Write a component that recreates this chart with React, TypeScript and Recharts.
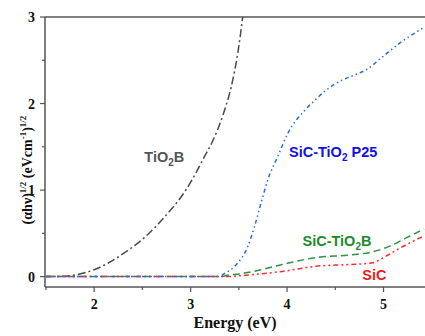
import React from "react";
import { LineChart, Line, XAxis, YAxis, ReferenceLine, ReferenceDot } from "recharts";

// TiO2B
const tio2bEnergy = [1.5, 1.7, 1.85, 2.0, 2.15, 2.32, 2.52, 2.73, 2.95, 3.07, 3.14, 3.23, 3.33, 3.42, 3.49, 3.54];
const tio2bValue = [0, 0.005, 0.03, 0.08, 0.16, 0.28, 0.45, 0.69, 1.0, 1.23, 1.38, 1.57, 1.85, 2.19, 2.59, 3.0];

// SiC-TiO2 P25
const p25Energy = [1.5, 3.0, 3.28, 3.36, 3.49, 3.59, 3.66, 3.74, 3.8, 3.9, 4.01, 4.19, 4.29, 4.41, 4.57, 4.7, 4.82, 4.99, 5.17, 5.42];
const p25Value = [0, 0, 0, 0.04, 0.16, 0.34, 0.57, 0.89, 1.12, 1.38, 1.66, 1.93, 2.04, 2.16, 2.27, 2.33, 2.39, 2.54, 2.7, 2.88];

// SiC-TiO2B
const sicTio2bEnergy = [1.5, 3.3, 3.4, 3.5, 3.61, 3.95, 4.3, 4.65, 4.86, 5.06, 5.24, 5.42];
const sicTio2bValue = [0, 0, 0.02, 0.03, 0.05, 0.14, 0.22, 0.25, 0.28, 0.35, 0.45, 0.55];

// SiC
const sicEnergy = [1.5, 3.35, 3.61, 3.95, 4.3, 4.65, 4.89, 5.0, 5.17, 5.42];
const sicValue = [0, 0, 0.02, 0.06, 0.12, 0.14, 0.16, 0.22, 0.33, 0.47];

const xTicks = [1.5, 2, 2.5, 3, 3.5, 4, 4.5, 5];
const yTicks = [0, 0.5, 1, 1.5, 2, 2.5, 3];

const toPoints = (xs: number[], ys: number[]) => xs.map((e, i) => ({ e, v: ys[i] }));

const serif = "'Liberation Serif', 'Times New Roman', serif";
const sans = "'Liberation Sans', Arial, sans-serif";
const axisColor = "#555";

const XTick = (props: any) => {
  const { x, y, payload } = props;
  const major = Number.isInteger(payload.value);
  return (
    <g>
      <line x1={x} y1={y} x2={x} y2={y + (major ? 5 : 3)} stroke={axisColor} strokeWidth={1.2} />
      {major && (
        <text x={x} y={y + 22} textAnchor="middle" fontFamily={serif} fontWeight="bold" fontSize={14} fill="#111">
          {payload.value}
        </text>
      )}
    </g>
  );
};

const YTick = (props: any) => {
  const { x, y, payload } = props;
  const major = Number.isInteger(payload.value);
  return (
    <g>
      <line x1={x} y1={y} x2={x - (major ? 5 : 3)} y2={y} stroke={axisColor} strokeWidth={1.2} />
      {major && (
        <text x={x - 10} y={y + 5} textAnchor="end" fontFamily={serif} fontWeight="bold" fontSize={14} fill="#111">
          {payload.value}
        </text>
      )}
    </g>
  );
};

// rotated title; baseline sits on the right-hand side
const YTitle = () => (
  <text
    x={32}
    y={170}
    transform="rotate(-90 32 170)"
    textAnchor="middle"
    fontFamily={serif}
    fontWeight="bold"
    fontSize={14}
    fill="#111"
  >
    (αhν)
    <tspan fontSize={9} dy={-6}>1/2</tspan>
    <tspan dy={6}> (eVcm</tspan>
    <tspan fontSize={9} dy={-6}>-1</tspan>
    <tspan dy={6}>)</tspan>
    <tspan fontSize={9} dy={-6}>1/2</tspan>
  </text>
);

const Tag = ({ viewBox, pre, post, color }: any) => (
  <text
    x={viewBox.x}
    y={viewBox.y + 5}
    textAnchor="start"
    fontFamily={sans}
    fontWeight="bold"
    fontSize={14.5}
    fill={color}
  >
    {pre}
    {post !== undefined && (
      <>
        <tspan fontSize={10} dy={4}>2</tspan>
        <tspan dy={-4}>{post}</tspan>
      </>
    )}
  </text>
);

export default function App() {
  return (
    <div style={{ position: "fixed", left: 0, top: 0, background: "#fff" }}>
      <LineChart width={425} height={336} margin={{ top: 17, right: 0, bottom: 0, left: 0 }}>
        <XAxis
          type="number"
          dataKey="e"
          domain={[1.49, 5.43]}
          allowDataOverflow
          ticks={xTicks}
          interval={0}
          height={49}
          tickSize={0}
          tickMargin={0}
          stroke={axisColor}
          strokeWidth={1.5}
          tick={<XTick />}
          label={{
            value: "Energy (eV)",
            position: "insideBottom",
            offset: 8,
            fontFamily: serif,
            fontWeight: "bold",
            fontSize: 16,
            fill: "#111",
          }}
        />
        <YAxis
          type="number"
          dataKey="v"
          domain={[-0.12, 3]}
          allowDataOverflow
          ticks={yTicks}
          interval={0}
          width={45}
          tickSize={0}
          tickMargin={0}
          stroke={axisColor}
          strokeWidth={1.5}
          tick={<YTick />}
          label={<YTitle />}
        />
        <ReferenceLine y={3} stroke={axisColor} strokeWidth={1.5} />
        <Line
          data={toPoints(tio2bEnergy, tio2bValue)}
          dataKey="v"
          type="monotone"
          stroke="#4a4a4a"
          strokeWidth={1.5}
          strokeDasharray="8 3 2 3"
          dot={false}
          isAnimationActive={false}
        />
        <Line
          data={toPoints(sicTio2bEnergy, sicTio2bValue)}
          dataKey="v"
          type="monotone"
          stroke="#2e9142"
          strokeWidth={1.5}
          strokeDasharray="7 4"
          dot={false}
          isAnimationActive={false}
        />
        <Line
          data={toPoints(sicEnergy, sicValue)}
          dataKey="v"
          type="monotone"
          stroke="#ff2a2a"
          strokeWidth={1.5}
          strokeDasharray="5 3 2 3 2 3"
          dot={false}
          isAnimationActive={false}
        />
        <Line
          data={toPoints(p25Energy, p25Value)}
          dataKey="v"
          type="monotone"
          stroke="#2a6be6"
          strokeWidth={1.5}
          strokeDasharray="4 3 1.5 3 1.5 3"
          dot={false}
          isAnimationActive={false}
        />
        <ReferenceDot x={2.53} y={1.37} r={1} fill="none" stroke="none" label={<Tag pre="TiO" post="B" color="#555" />} />
        <ReferenceDot x={4.03} y={1.43} r={1} fill="none" stroke="none" label={<Tag pre="SiC-TiO" post=" P25" color="#1010e8" />} />
        <ReferenceDot x={4.17} y={0.4} r={1} fill="none" stroke="none" label={<Tag pre="SiC-TiO" post="B" color="#1a8a2a" />} />
        <ReferenceDot x={4.79} y={0.007} r={1} fill="none" stroke="none" label={<Tag pre="SiC" color="#f01818" />} />
      </LineChart>
    </div>
  );
}
